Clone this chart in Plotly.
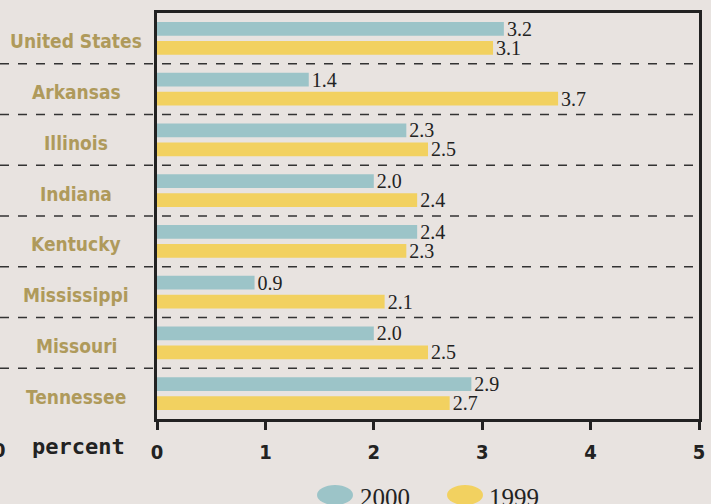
import plotly.graph_objects as go

categories = ["United States", "Arkansas", "Illinois", "Indiana", "Kentucky",
              "Mississippi", "Missouri", "Tennessee"]
series_names = ["2000", "1999"]
values_2000 = [3.2, 1.4, 2.3, 2.0, 2.4, 0.9, 2.0, 2.9]
values_1999 = [3.1, 3.7, 2.5, 2.4, 2.3, 2.1, 2.5, 2.7]
x_ticks = [0, 1, 2, 3, 4, 5]

BG = "#E8E3E0"
TEAL = "#9CC4C8"
YELLOW = "#F2D160"
KHAKI = "#AF9A5B"
INK = "#222222"

W, H = 711, 504
L, R, T, B = 157, 12, 13, 85
PW, PH = W - L - R, H - T - B

def px_x(p):
    return (p - L) / PW

def px_y(p):
    return (H - B - p) / PH

fig = go.Figure()
for name, vals, col in [(series_names[0], values_2000, TEAL), (series_names[1], values_1999, YELLOW)]:
    fig.add_trace(go.Bar(
        y=categories, x=vals, orientation="h", name=name,
        marker=dict(color=col, line=dict(width=0)),
        text=[f"{v:.1f}" for v in vals], textposition="outside",
        constraintext="none", cliponaxis=False,
        textfont=dict(family="Liberation Serif, DejaVu Serif, serif", size=20, color=INK),
        showlegend=False,
    ))

shapes = []
for i in range(len(categories) - 1):
    shapes.append(dict(type="line", xref="paper", yref="y",
                       x0=px_x(0), x1=1, y0=i + 0.5, y1=i + 0.5,
                       line=dict(color="#333333", width=1.3, dash="dash")))

annotations = []
for c in categories:
    annotations.append(dict(xref="paper", yref="y", x=px_x(76), y=c, yshift=-3,
                            text=c, showarrow=False, xanchor="center", yanchor="middle",
                            font=dict(family="DejaVu Sans Condensed, sans-serif",
                                      size=19, color=KHAKI, weight="bold")))

annotations.append(dict(xref="paper", yref="paper", x=px_x(78), y=px_y(447),
                        text="percent", showarrow=False, xanchor="center", yanchor="middle",
                        font=dict(family="DejaVu Sans Mono, monospace", size=22, color=INK, weight="bold")))
annotations.append(dict(xref="paper", yref="paper", x=px_x(8), y=px_y(450),
                        text="0", showarrow=False, xanchor="right", yanchor="middle",
                        font=dict(family="DejaVu Sans Condensed, sans-serif", size=20, color=INK, weight="bold")))

leg = [(335, 358, TEAL, series_names[0]), (465, 487, YELLOW, series_names[1])]
for cx, tx, col, name in leg:
    shapes.append(dict(type="circle", xref="paper", yref="paper",
                       x0=px_x(cx - 18), x1=px_x(cx + 18), y0=px_y(505), y1=px_y(485),
                       fillcolor=col, line=dict(width=0)))
    annotations.append(dict(xref="paper", yref="paper", x=px_x(tx), y=px_y(497),
                            text=name, showarrow=False, xanchor="left", yanchor="middle",
                            font=dict(family="Liberation Serif, DejaVu Serif, serif", size=25, color=INK)))

fig.update_layout(
    width=W, height=H, autosize=False,
    margin=dict(l=L, r=R, t=T, b=B, autoexpand=False),
    paper_bgcolor=BG, plot_bgcolor=BG,
    barmode="group", bargap=0.25, bargroupgap=0.28,
    shapes=shapes, annotations=annotations,
    xaxis=dict(range=[0, 5], tickvals=x_ticks, ticktext=[str(t) for t in x_ticks],
               showgrid=False, zeroline=False, automargin=False,
               showline=True, linecolor=INK, linewidth=2.5, mirror=True,
               ticks="outside", ticklen=8, tickwidth=2.5, tickcolor=INK,
               ticklabelstandoff=5,
               tickfont=dict(family="DejaVu Sans Condensed, sans-serif", size=20, color=INK, weight="bold")),
    yaxis=dict(autorange="reversed", showticklabels=False, showgrid=False, automargin=False,
               showline=True, linecolor=INK, linewidth=2.5, mirror=True, ticks=""),
)

fig.write_html("out.html", config={"displayModeBar": False},
               post_script="document.body.style.margin='0';document.body.style.overflow='hidden';")
